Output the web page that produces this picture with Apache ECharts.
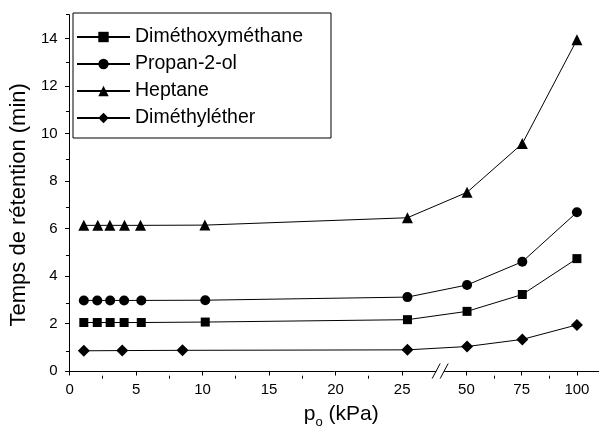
<!DOCTYPE html>
<html><head><meta charset="utf-8">
<script src="https://cdn.jsdelivr.net/npm/echarts@6/dist/echarts.min.js"></script>
<style>html,body{margin:0;padding:0;background:#fff}#c{width:599px;height:434px}</style>
</head><body><div id="c"></div>
<script>
// ---- data (pressure in kPa, retention time in min) ----
const seriesNames = ['Diméthoxyméthane', 'Propan-2-ol', 'Heptane', 'Diméthyléther'];
const pDMM = [1.07, 2.08, 3.05, 4.1, 5.39, 10.2, 25.4, 50.3, 75.3, 100];
const tDMM = [2.04, 2.04, 2.04, 2.04, 2.04, 2.06, 2.16, 2.51, 3.22, 4.73];
const pProp = [1.07, 2.08, 3.05, 4.1, 5.39, 10.2, 25.4, 50.3, 75.3, 100];
const tProp = [2.97, 2.97, 2.97, 2.97, 2.97, 2.98, 3.11, 3.62, 4.60, 6.68];
const pHept = [1.07, 2.12, 3.03, 4.13, 5.33, 10.17, 25.4, 50.3, 75.3, 100];
const tHept = [6.13, 6.13, 6.13, 6.13, 6.13, 6.14, 6.45, 7.52, 9.57, 13.94];
const pDME = [1.07, 3.96, 8.49, 25.4, 50.3, 75.3, 100];
const tDME = [0.85, 0.86, 0.87, 0.89, 1.03, 1.33, 1.94];

const xMajorTicks = [0, 5, 10, 15, 20, 25, 50, 75, 100];
const xMinorTicks = [2.5, 7.5, 12.5, 17.5, 22.5, 62.5, 87.5];
const yMajorTicks = [0, 2, 4, 6, 8, 10, 12, 14];
const yMinorTicks = [1, 3, 5, 7, 9, 11, 13, 15];

// ---- broken x axis: 0-25 kPa linear, break, then 50-100 kPa compressed ----
const SEG2_START = 50, SEG2_POS = 29.83, SEG2_SCALE = 0.1662;
const AXIS_MAX = 39.8, BREAK_POS = 27.86;
function toAxis(p) { return p <= 30 ? p : SEG2_POS + (p - SEG2_START) * SEG2_SCALE; }
function fromAxis(t) { return t <= 27 ? t : SEG2_START + (t - SEG2_POS) / SEG2_SCALE; }

const FONT = '"Liberation Sans", Arial, sans-serif';
const symbols = ['rect', 'circle', 'triangle', 'diamond'];
const symbolSizes = [9, 10, 11, 12];
const xs = [pDMM, pProp, pHept, pDME];
const ys = [tDMM, tProp, tHept, tDME];

const chart = echarts.init(document.getElementById('c'), null, {renderer: 'canvas'});
const gridPos = {left: 69, right: 0, top: 14.6, bottom: 58.3};
chart.setOption({
  animation: false,
  backgroundColor: '#fff',
  textStyle: {fontFamily: FONT},
  grid: [Object.assign({}, gridPos), Object.assign({}, gridPos)],
  legend: {
    orient: 'vertical', left: 73, top: 13,
    borderColor: '#000', borderWidth: 1,
    padding: [14, 28, 10, 3],
    itemWidth: 53, itemHeight: 13, itemGap: 7,
    textStyle: {fontFamily: FONT, fontSize: 19.5, color: '#000', lineHeight: 20},
    data: seriesNames
  },
  xAxis: [{
    type: 'value', gridIndex: 0, min: 0, max: AXIS_MAX,
    name: 'p{s|o} (kPa)', nameLocation: 'middle', nameGap: 31,
    nameTextStyle: {fontFamily: FONT, fontSize: 21, color: '#000', lineHeight: 24, padding: [0, 0, 0, 14],
      rich: {s: {fontFamily: FONT, fontSize: 13, lineHeight: 13, padding: [14, 0, 0, 0], verticalAlign: 'top'}}},
    axisLine: {lineStyle: {color: '#000', width: 1}},
    axisTick: {show: true, inside: false, length: 4.5, lineStyle: {color: '#000'},
      customValues: xMajorTicks.map(toAxis)},
    axisLabel: {show: true, margin: 11, fontFamily: FONT, fontSize: 15, color: '#000',
      customValues: xMajorTicks.map(toAxis),
      formatter: v => String(Math.round(fromAxis(v)))},
    splitLine: {show: false}
  }, {
    type: 'value', gridIndex: 1, min: 0, max: AXIS_MAX,
    axisLine: {show: false},
    axisTick: {show: true, length: 3, lineStyle: {color: '#000'}, customValues: xMinorTicks.map(toAxis)},
    axisLabel: {show: false}, splitLine: {show: false}
  }],
  yAxis: [{
    type: 'value', gridIndex: 0, min: 0, max: 15,
    name: 'Temps de rétention (min)', nameLocation: 'middle', nameGap: 36,
    nameTextStyle: {fontFamily: FONT, fontSize: 22, color: '#000', padding: [0, 24, 0, 0]},
    axisLine: {show: true, lineStyle: {color: '#000', width: 1}},
    axisTick: {show: true, length: 4.5, lineStyle: {color: '#000'}, customValues: yMajorTicks},
    axisLabel: {margin: 12, fontFamily: FONT, fontSize: 15, color: '#000', customValues: yMajorTicks},
    splitLine: {show: false}
  }, {
    type: 'value', gridIndex: 1, min: 0, max: 15,
    axisLine: {show: false},
    axisTick: {show: true, length: 3, lineStyle: {color: '#000'}, customValues: yMinorTicks},
    axisLabel: {show: false}, splitLine: {show: false}
  }],
  series: seriesNames.map((name, i) => ({
    name: name, type: 'line', xAxisIndex: 0, yAxisIndex: 0,
    symbol: symbols[i], symbolSize: symbolSizes[i],
    itemStyle: {color: '#000'},
    lineStyle: {color: '#000', width: 1},
    data: xs[i].map((p, j) => [toAxis(p), ys[i][j]])
  }))
});

// axis break marks "//"
const bp = chart.convertToPixel({gridIndex: 0}, [BREAK_POS, 0]);
const cx = bp[0], ay = bp[1];
chart.setOption({
  graphic: [
    {type: 'rect', shape: {x: cx - 4, y: ay - 2, width: 8, height: 4}, style: {fill: '#fff'}, z: 100},
    {type: 'line', shape: {x1: cx - 8, y1: ay + 7.5, x2: cx, y2: ay - 7.5}, style: {stroke: '#000', lineWidth: 1}, z: 101},
    {type: 'line', shape: {x1: cx, y1: ay + 7.5, x2: cx + 8, y2: ay - 7.5}, style: {stroke: '#000', lineWidth: 1}, z: 101}
  ]
});
</script>
</body></html>
